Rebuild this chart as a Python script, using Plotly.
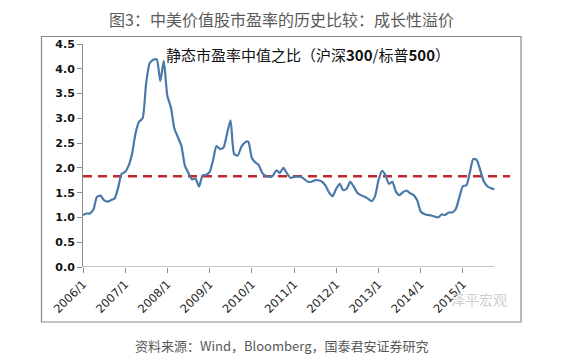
import plotly.graph_objects as go
import pandas as pd

# ---- data ----
ratio = [
    1.05, 1.08, 1.08, 1.16, 1.41, 1.44, 1.35, 1.32, 1.35, 1.38, 1.60, 1.88,
    1.92, 2.05, 2.28, 2.70, 2.93, 3.00, 3.70, 4.11, 4.18, 4.19, 3.75, 4.16,
    3.45, 3.22, 2.80, 2.62, 2.45, 2.04, 1.90, 1.77, 1.78, 1.62, 1.85, 1.86,
    1.92, 2.17, 2.44, 2.38, 2.41, 2.70, 2.96, 2.28, 2.25, 2.42, 2.51, 2.53,
    2.20, 2.11, 2.06, 1.90, 1.84, 1.82, 1.84, 1.95, 1.90, 2.00, 1.89, 1.80,
    1.82, 1.83, 1.82, 1.77, 1.72, 1.72, 1.75, 1.75, 1.72, 1.64, 1.50, 1.43,
    1.58, 1.68, 1.55, 1.58, 1.72, 1.62, 1.50, 1.45, 1.42, 1.38, 1.33, 1.42,
    1.75, 1.94, 1.86, 1.68, 1.72, 1.52, 1.45, 1.51, 1.54, 1.49, 1.45, 1.35,
    1.12, 1.07, 1.05, 1.04, 1.02, 1.00, 1.06, 1.05, 1.10, 1.10, 1.17, 1.40,
    1.63, 1.65, 1.89, 2.18, 2.16, 1.95, 1.73, 1.63, 1.59, 1.57,
]
months = pd.date_range("2006-01-01", periods=len(ratio), freq="MS")

avg_dates = ["2006-01-01", "2016-02-13"]
avg_values = [1.83, 1.83]

year_ticks = ["2006-01-01", "2007-01-01", "2008-01-01", "2009-01-01", "2010-01-01",
              "2011-01-01", "2012-01-01", "2013-01-01", "2014-01-01", "2015-01-01"]
year_labels = ["2006/1", "2007/1", "2008/1", "2009/1", "2010/1",
               "2011/1", "2012/1", "2013/1", "2014/1", "2015/1"]
y_ticks = [0.0, 0.5, 1.0, 1.5, 2.0, 2.5, 3.0, 3.5, 4.0, 4.5]
y_labels = [f"{v:.1f}" for v in y_ticks]

title_text = "图3：中美价值股市盈率的历史比较：成长性溢价"
inner_title = "静态市盈率中值之比（沪深<b>300</b>/标普<b>500</b>）"
source_text = "资料来源：Wind，Bloomberg，国泰君安证券研究"
watermark = "泽平宏观"

fig = go.Figure()
fig.add_trace(go.Scatter(
    x=avg_dates, y=avg_values, mode="lines",
    line=dict(color="#C0282E", width=2.5, dash="9px,6px"),
    hoverinfo="skip", showlegend=False,
))
fig.add_trace(go.Scatter(
    x=months, y=ratio, mode="lines",
    line=dict(color="#4A78A8", width=2.2, shape="spline", smoothing=0.6),
    showlegend=False,
))

# x axis baseline across the data span only
fig.add_shape(type="line", xref="x", yref="y",
              x0=months[0], x1=months[-1], y0=0, y1=0,
              line=dict(color="#8c8c8c", width=1))
# outer frame
fig.add_shape(type="rect", xref="paper", yref="paper",
              x0=-0.0972, x1=1.0258, y0=-0.2466, y1=1.0336,
              line=dict(color="#8a8a8a", width=1.2), layer="above")

fig.update_layout(
    width=575, height=361,
    margin=dict(l=83, r=65, t=44, b=94),
    paper_bgcolor="white", plot_bgcolor="white",
    font=dict(family="Noto Sans CJK SC, DejaVu Sans", color="#222"),
    xaxis=dict(
        type="date", range=["2006-01-01", "2016-02-13"],
        tickmode="array", tickvals=year_ticks, ticktext=year_labels,
        tickangle=-45, ticks="outside", ticklen=5, tickcolor="#8c8c8c",
        tickfont=dict(family="DejaVu Sans", size=11.5, color="#222"),
        showgrid=False, zeroline=False, showline=False,
    ),
    yaxis=dict(
        range=[0, 4.5], tickmode="array", tickvals=y_ticks, ticktext=y_labels,
        ticks="outside", ticklen=5, tickcolor="#8c8c8c",
        showline=True, linecolor="#8c8c8c", linewidth=1,
        tickfont=dict(family="DejaVu Sans", size=11, color="#111", weight="bold"),
        showgrid=False, zeroline=False,
    ),
    annotations=[
        dict(text=title_text, xref="paper", yref="paper", x=0.466, y=1.11,
             xanchor="center", yanchor="middle", showarrow=False,
             font=dict(size=16, color="#595959", family="Noto Sans CJK SC")),
        dict(text=inner_title, xref="paper", yref="paper", x=0.526, y=0.951,
             xanchor="center", yanchor="middle", showarrow=False,
             font=dict(size=15, color="#111", family="Noto Sans CJK SC")),
        dict(text=source_text, xref="paper", yref="paper", x=0.465, y=-0.354,
             xanchor="center", yanchor="middle", showarrow=False,
             font=dict(size=13, color="#595959", family="Noto Sans CJK SC")),
        dict(text=watermark, xref="paper", yref="paper", x=0.927, y=-0.1435,
             xanchor="center", yanchor="middle", showarrow=False,
             font=dict(size=14, color="#cfcfcf", family="Noto Sans CJK SC")),
    ],
)

fig.write_html("out.html", config={"displayModeBar": False},
               post_script="document.body.style.margin='0';document.body.style.overflow='hidden';")
